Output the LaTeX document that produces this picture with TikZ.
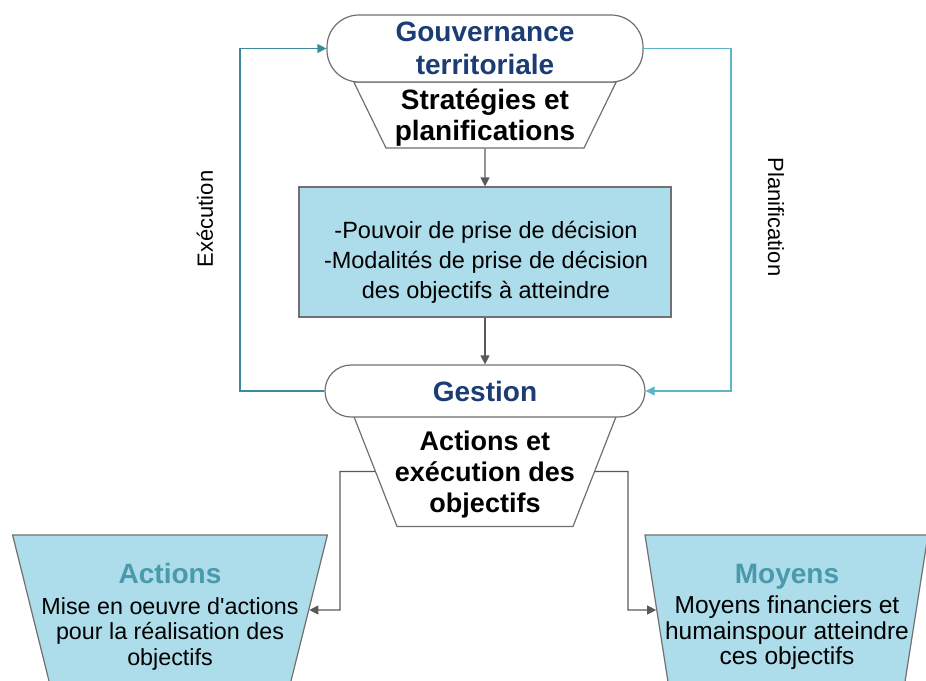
\documentclass[tikz,border=0pt]{standalone}
\usepackage{fontspec}
\setmainfont{Liberation Sans}
\usepackage{xcolor}
\usetikzlibrary{shapes.geometric,arrows.meta}

\definecolor{govnavy}{HTML}{1C3C74}
\definecolor{titleteal}{HTML}{4A9AAD}
\definecolor{boxblue}{HTML}{ADDCEA}
\definecolor{execteal}{HTML}{3D8A9C}
\definecolor{planteal}{HTML}{5CB6C8}
\definecolor{linegray}{HTML}{595959}
\definecolor{bordergray}{HTML}{707070}

\begin{document}
\begin{tikzpicture}[x=1pt, y=-1pt, line width=1.2pt,
  every node/.style={font=\fontsize{22}{29}\selectfont},
  pill/.style={draw=bordergray, fill=white, inner sep=2pt, align=center, text=govnavy, font=\fontsize{28}{33}\selectfont\bfseries},
  trap/.style={draw=bordergray, fill=white, trapezium, shape border rotate=180, inner sep=0pt, minimum size=0pt, text depth=0pt},
  bigbold/.style={align=center, font=\fontsize{27}{31}\selectfont\bfseries},
  boxtitle/.style={align=center, font=\fontsize{23.3}{25.5}\selectfont},
  tiptri/.style={-{Triangle[length=9pt,width=9pt]}},
  garrow/.style={draw=linegray, tiptri}]
\useasboundingbox (0,0) rectangle (926,680);
\clip (0,0) rectangle (926,680);

% top: gouvernance
\node[trap, trapezium angle=64, text width=198pt, text height=66pt] (govtrap) at (485,115) {};
\node[bigbold, font=\fontsize{28}{31}\selectfont\bfseries] (strat) at (485,118) {Stratégies et\\planifications};
\node[pill, minimum width=316pt, minimum height=67pt, rounded corners=32pt] (gov) at (485,48.5) {Gouvernance\\territoriale};

% decision box
\node[draw=bordergray, fill=boxblue, minimum width=372pt, minimum height=130pt] (modal) at (485,252) {};
\node[align=center, font=\fontsize{23.5}{30}\selectfont] (modtxt) at (486,262) {-Pouvoir de prise de décision\\-Modalités de prise de décision\\des objectifs à atteindre};

% gestion
\node[trap, trapezium angle=68.6, text width=176pt, text height=110pt] (gestrap) at (485,471.5) {};
\node[bigbold] (actexe) at (485,475) {Actions et\\exécution des\\objectifs};
\node[pill, minimum width=320pt, minimum height=52pt, rounded corners=26pt] (gest) at (485,391) {Gestion};

% bottom boxes
\node[trap, fill=boxblue, trapezium angle=76, text width=240pt, text height=150pt] (actions) at (170,610) {};
\node[boxtitle] (acttxt) at (170,617) {{\color{titleteal}\fontsize{28}{31}\selectfont\bfseries Actions}\\[5pt]Mise en oeuvre d\textquotesingle actions\\pour la réalisation des\\objectifs};
\node[trap, fill=boxblue, trapezium angle=81.1, text width=236pt, text height=150pt] (moyens) at (786.5,610) {};
\node[boxtitle, font=\fontsize{24.5}{25.5}\selectfont] (moytxt) at (787,617) {{\color{titleteal}\fontsize{28}{31}\selectfont\bfseries Moyens}\\[5pt]Moyens financiers et\\humainspour atteindre\\ces objectifs};

% arrows
\draw[garrow] (govtrap) -- (modal);
\draw[garrow] (modal) -- (gest);
\draw[garrow] (gestrap) -- ++(-145,0) |- (actions);
\draw[garrow] (gestrap) -- ++(143,0) |- (moyens);
\draw[execteal, tiptri] (gest) -- ++(-245,0) |- (gov);
\draw[planteal, tiptri] (gov) -- ++(246,0) |- (gest);

\node[rotate=90] (exec) at (205,219) {Exécution};
\node[rotate=-90] (plan) at (776,217) {Planification};
\end{tikzpicture}
\end{document}
